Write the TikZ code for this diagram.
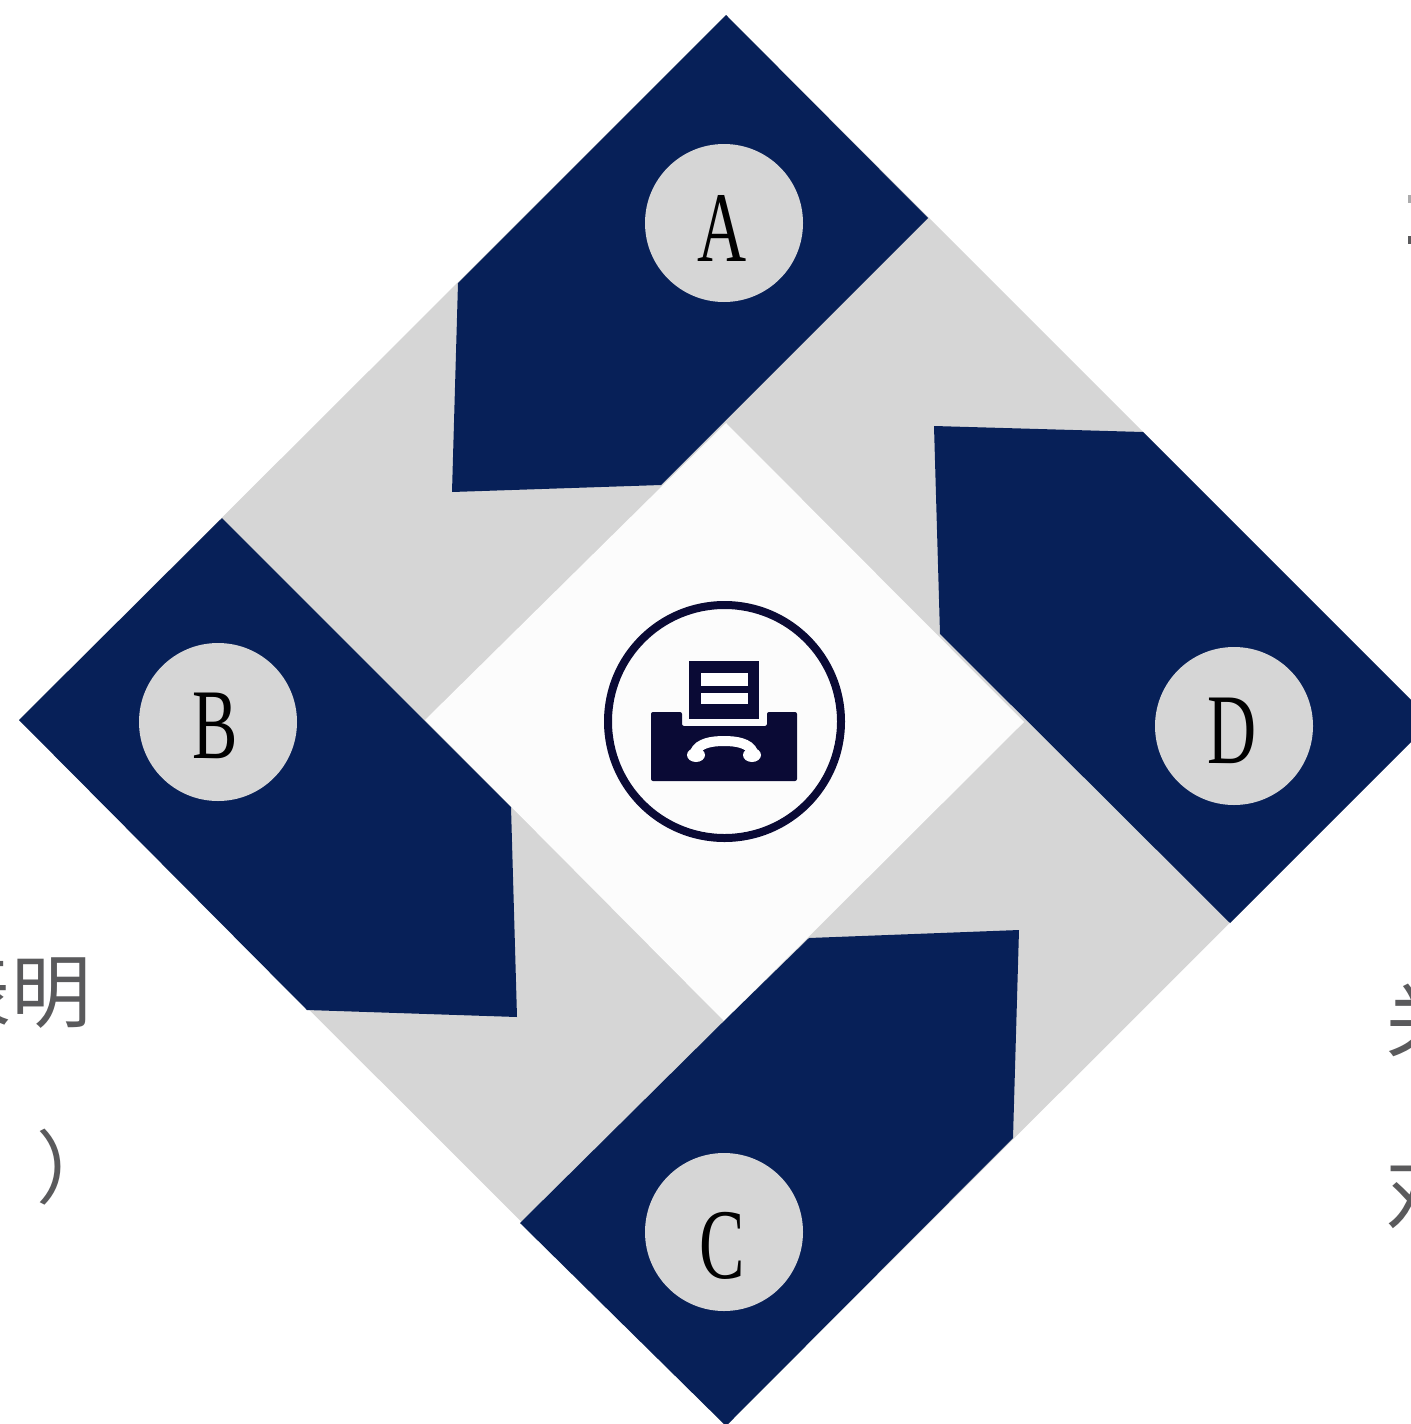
\documentclass[tikz,border=0pt]{standalone}
\usepackage{fontspec}
\setmainfont{Liberation Serif}
\newfontfamily\cjk{Noto Sans CJK SC}
\definecolor{navy}{HTML}{072058}
\definecolor{pale}{HTML}{D6D6D6}
\definecolor{ink}{HTML}{0A0A35}
\definecolor{txt}{HTML}{5A5A5C}
\tikzset{
  band/.style={fill=navy,draw=none},
  disc/.style={circle,fill=pale,draw=none,minimum size=79pt,inner sep=0pt},
  letter/.style={font=\fontsize{50}{50}\selectfont,xscale=.68,transform shape,inner sep=0pt,text=black},
  cjktext/.style={font=\cjk\fontsize{40}{40}\selectfont,text=txt,inner sep=0pt,anchor=base west}
}
\begin{document}
\begin{tikzpicture}[x=0.5pt,y=-0.5pt]
\useasboundingbox (0,0) rectangle (1411,1424);
\clip (0,0) rectangle (1411,1424);
\fill[white] (0,0) rectangle (1411,1424);
% side text
\node[cjktext] (t1) at (-69,1021) {表明};
\node[cjktext] (t2) at (36,1197) {）};
\node[cjktext] (t3) at (1385,1050) {关};
\node[cjktext] (t4) at (1385,1222) {对};
\fill[txt!50] (1408,195) rectangle (1411,203);
\fill[txt] (1408,236) rectangle (1411,244);
% gray diamond
\fill[pale] (726,15) -- (1432,721) -- (726,1426) -- (19,720) -- cycle;
% white centre
\fill[white!99!black] (726,423) -- (1024,722) -- (724,1021) -- (425,720) -- cycle;
% blue bands
\fill[band] (726,15) -- (928,218) -- (661,485) -- (452,492) -- (458,283) -- cycle;
\fill[band] (1143,432) -- (1432,721) -- (1230,923) -- (940,634) -- (934,426) -- cycle;
\fill[band] (724,1021) -- (809,938) -- (1019,930) -- (1013,1138) -- (726,1426) -- (520,1223) -- cycle;
\fill[band] (222,518) -- (511,807) -- (517,1017) -- (307,1010) -- (19,720) -- cycle;
% discs
\node[disc] (dA) at (724,223) {};
\node[disc] (dB) at (218,722) {};
\node[disc] (dC) at (724,1232) {};
\node[disc] (dD) at (1234,726) {};
\node[letter] (lA) at (722,228) {A};
\node[letter] (lB) at (215,726) {B};
\node[letter] (lC) at (722,1246) {C};
\node[letter] (lD) at (1232,731) {D};
% fax icon
\draw[ink,line width=4pt] (724.5,721.5) circle[radius=116.5];
\fill[ink,rounded corners=1pt] (651,712) -- (682,712) -- (682,726) -- (767,726) -- (767,712) -- (797,712) -- (797,781) -- (651,781) -- cycle;
\fill[ink] (689,661) rectangle (759,719);
\fill[white] (701,673) rectangle (748,686);
\fill[white] (701,693) rectangle (748,704);
\draw[white,line width=5pt] (695,752) .. controls (699,743) and (712,741) .. (724,741) .. controls (736,741) and (749,743) .. (753,752);
\fill[white] (696,755) ellipse[x radius=9,y radius=7];
\fill[white] (752,755) ellipse[x radius=9,y radius=7];
\end{tikzpicture}
\end{document}
